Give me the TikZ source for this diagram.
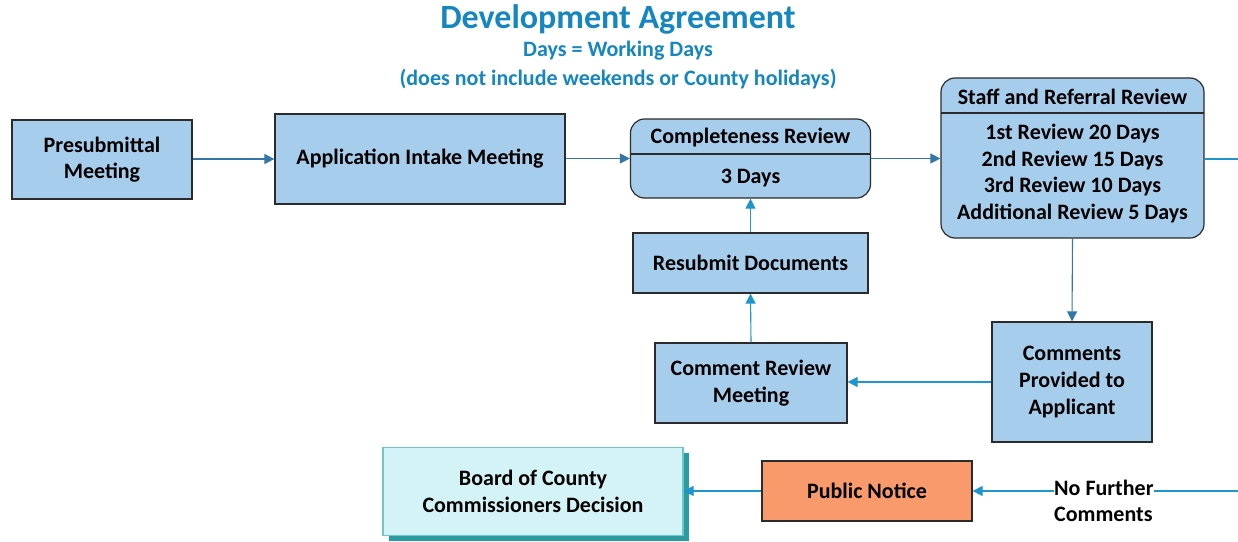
\documentclass[tikz,border=0pt]{standalone}
\usepackage{fontspec}
\setmainfont{Carlito}
\usetikzlibrary{arrows.meta}
\definecolor{boxfill}{HTML}{A6CEEC}
\definecolor{boxline}{HTML}{2B2B2B}
\definecolor{orangefill}{HTML}{F89A6B}
\definecolor{boardfill}{HTML}{D4F3F6}
\definecolor{boardline}{HTML}{6CC6CC}
\definecolor{shadowcol}{HTML}{2A9BA0}
\definecolor{darkarrow}{HTML}{3576A8}
\definecolor{brightarrow}{HTML}{1E95CB}
\definecolor{titleblue}{HTML}{1586BF}
\begin{document}
\begin{tikzpicture}[x=1pt,y=-1pt,
  boxtext/.style={font=\bfseries\fontsize{22}{26.7}\selectfont, align=center, text=black},
  stepbox/.style={boxtext, draw=boxline, fill=boxfill, line width=1.2pt, inner sep=0pt},
  roundbox/.style={stepbox, rounded corners=14pt},
  darkconn/.style={draw=darkarrow, line width=1.1pt, -{Triangle[length=10pt,width=10pt]}},
  brightconn/.style={draw=brightarrow, line width=1.1pt, -{Triangle[length=10pt,width=10pt]}},
  plainconn/.style={draw=brightarrow, line width=1.1pt},
  title/.style={text=titleblue, font=\bfseries, inner sep=0pt}
]
\useasboundingbox (0,0) rectangle (1238,541);

% title
\node[title, font=\bfseries\fontsize{34}{40}\selectfont] (t1) at (618,19) {Development Agreement};
\node[title, font=\bfseries\fontsize{22}{26}\selectfont] (t2) at (618,51) {Days = Working Days};
\node[title, font=\bfseries\fontsize{22}{26}\selectfont] (t3) at (618,79) {(does not include weekends or County holidays)};

% boxes
\node[stepbox, minimum width=180pt, minimum height=79pt] (pre) at (102,159.5) {Presubmittal\\Meeting};
\node[stepbox, minimum width=290pt, minimum height=90pt] (app) at (420,159) {Application Intake Meeting};

\node[roundbox, minimum width=240pt, minimum height=79pt] (comp) at (750.5,158.5) {};
\draw[boxline, line width=1.2pt] (630.5,154) -- (870.5,154);
\node[boxtext] (compT) at (750.5,138) {Completeness Review};
\node[boxtext] (compD) at (750.5,178) {3 Days};

\node[roundbox, minimum width=263pt, minimum height=160pt] (staff) at (1072.5,158) {};
\draw[boxline, line width=1.2pt] (941,113) -- (1204,113);
\node[boxtext] (staffT) at (1072.5,97) {Staff and Referral Review};
\node[boxtext] (staffD) at (1072.5,173.5) {1st Review 20 Days\\2nd Review 15 Days\\3rd Review 10 Days\\Additional Review 5 Days};

\node[stepbox, minimum width=235pt, minimum height=60pt] (resub) at (750.5,263) {Resubmit Documents};
\node[stepbox, minimum width=192pt, minimum height=80pt] (crm) at (751,383) {Comment Review\\Meeting};
\node[stepbox, minimum width=160pt, minimum height=120pt] (cpa) at (1072,382) {Comments\\Provided to\\Applicant};

\fill[shadowcol] (389,453) rectangle (689,541);
\node[boxtext, draw=boardline, fill=boardfill, line width=1.2pt, inner sep=0pt, minimum width=300pt, minimum height=88pt] (board) at (533,491.5) {Board of County\\Commissioners Decision};
\node[stepbox, fill=orangefill, minimum width=210pt, minimum height=60pt] (pn) at (867,491) {Public Notice};

\coordinate (edgeTop) at (1238,159);
\coordinate (edgeBot) at (1238,491);

% connectors
\draw[darkconn] (pre.east |- app.west) -- (app.west);
\draw[darkconn] (app.east |- comp.west) -- (comp.west);
\draw[darkconn] (comp.east) -- (staff.west |- comp.east);
\draw[plainconn] (staff.east |- edgeTop) -- (edgeTop);
\draw[darkconn] (staff.south) -- (cpa.north);
\draw[brightconn] (cpa.west) -- (crm.east |- cpa.west);
\draw[brightconn] (crm.north) -- (resub.south);
\draw[brightconn] (resub.north) -- (comp.south);
\draw[brightconn] (edgeBot) -- (pn.east);
\draw[brightconn] (pn.west) -- (board.east |- pn.west);
\node[boxtext, fill=white, inner sep=0pt, align=left, anchor=west] (nfc) at (1054,501) {No Further\\Comments};
\end{tikzpicture}
\end{document}
